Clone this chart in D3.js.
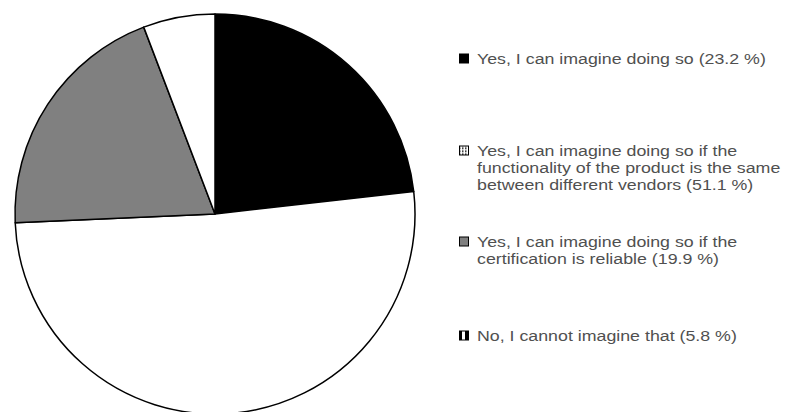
<!DOCTYPE html>
<html>
<head>
<meta charset="utf-8">
<script src="https://cdn.jsdelivr.net/npm/d3@7"></script>
<style>
  body { margin: 0; background: #fff; }
  svg { display: block; }
  .legend text { font-family: "Liberation Sans", Arial, sans-serif; font-size: 15.2px; fill: #505050; }
</style>
</head>
<body>
<svg width="794" height="412"></svg>
<script>
const answers = [
  ["Yes, I can imagine doing so (23.2 %)"],
  ["Yes, I can imagine doing so if the", "functionality of the product is the same", "between different vendors (51.1 %)"],
  ["Yes, I can imagine doing so if the", "certification is reliable (19.9 %)"],
  ["No, I cannot imagine that (5.8 %)"]
];
const shares = [23.2, 51.1, 19.9, 5.8];
const fills = ["#000", "#fff", "#808080", "#fff"];
const markerFills = ["#000", "url(#dots)", "#808080", "url(#bars)"];

const svg = d3.select("svg");
const defs = svg.append("defs");
const dots = defs.append("pattern").attr("id", "dots")
  .attr("width", 3).attr("height", 3).attr("patternUnits", "userSpaceOnUse");
dots.append("rect").attr("width", 3).attr("height", 3).attr("fill", "#fff");
dots.append("rect").attr("width", 1.5).attr("height", 1.5).attr("fill", "#000");
const bars = defs.append("pattern").attr("id", "bars")
  .attr("width", 9).attr("height", 9).attr("patternUnits", "userSpaceOnUse");
bars.append("rect").attr("width", 9).attr("height", 9).attr("fill", "#fff");
bars.append("rect").attr("width", 3).attr("height", 9).attr("fill", "#000");
bars.append("rect").attr("x", 6).attr("width", 3).attr("height", 9).attr("fill", "#000");

const cx = 215, cy = 214, r = 200;
const pie = d3.pie().sort(null).value(d => d);
const arc = d3.arc().innerRadius(0).outerRadius(r);

svg.append("g")
  .attr("transform", `translate(${cx},${cy})`)
  .selectAll("path")
  .data(pie(shares))
  .join("path")
  .attr("d", arc)
  .attr("fill", (d, i) => fills[i])
  .attr("stroke", "#000")
  .attr("stroke-width", 1.5)
  .attr("stroke-linejoin", "round");

// first-line centre of each legend entry
const legendY = d3.scaleOrdinal().domain(d3.range(answers.length)).range([58.5, 150.5, 241.5, 335.5]);
const lineH = 17;
const stretch = 1.17;

const items = svg.append("g").attr("class", "legend")
  .selectAll("g")
  .data(answers)
  .join("g")
  .attr("transform", (d, i) => `translate(459,${legendY(i)})`);

items.append("rect")
  .attr("x", 0.5).attr("y", -4.5)
  .attr("width", 9).attr("height", 9)
  .attr("fill", (d, i) => markerFills[i])
  .attr("stroke", "#000")
  .attr("stroke-width", 1);

items.append("g")
  .attr("transform", `translate(18,0) scale(${stretch},1)`)
  .each(function (lines) {
    d3.select(this).selectAll("text")
      .data(lines)
      .join("text")
      .attr("y", (d, j) => j * lineH)
      .attr("dy", "0.35em")
      .text(d => d);
  });
</script>
</body>
</html>
